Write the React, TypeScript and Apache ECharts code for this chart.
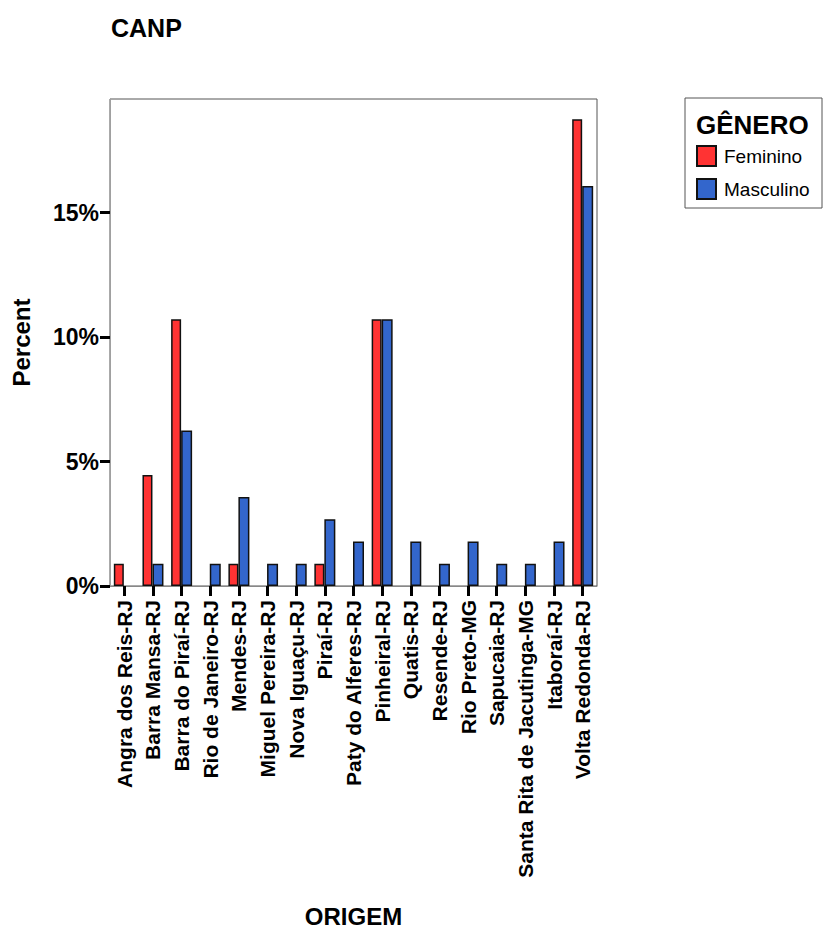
import React, { useEffect, useRef } from "react";
import * as echarts from "echarts";

const categories = [
  "Angra dos Reis-RJ",
  "Barra Mansa-RJ",
  "Barra do Piraí-RJ",
  "Rio de Janeiro-RJ",
  "Mendes-RJ",
  "Miguel Pereira-RJ",
  "Nova Iguaçu-RJ",
  "Piraí-RJ",
  "Paty do Alferes-RJ",
  "Pinheiral-RJ",
  "Quatis-RJ",
  "Resende-RJ",
  "Rio Preto-MG",
  "Sapucaia-RJ",
  "Santa Rita de Jacutinga-MG",
  "Itaboraí-RJ",
  "Volta Redonda-RJ",
];

const feminino = [0.89, 4.46, 10.71, null, 0.89, null, null, 0.89, null, 10.71, null, null, null, null, null, null, 18.75];
const masculino = [null, 0.89, 6.25, 0.89, 3.57, 0.89, 0.89, 2.68, 1.79, 10.71, 1.79, 0.89, 1.79, 0.89, 0.89, 1.79, 16.07];

const yTicks = [0, 5, 10, 15];
const seriesNames = ["Feminino", "Masculino"];
const legendTitle = "GÊNERO";

const FONT = "'Liberation Sans', Arial, sans-serif";

export default function App() {
  const ref = useRef<HTMLDivElement>(null);
  useEffect(() => {
    if (!ref.current) return;
    const chart = echarts.init(ref.current, null, { renderer: "svg" });
    chart.setOption({
      animation: false,
      backgroundColor: "#ffffff",
      textStyle: { fontFamily: FONT },
      title: {
        text: "CANP",
        left: 106,
        top: 10,
        textStyle: { fontSize: 25, fontWeight: "bold", color: "#000", fontFamily: FONT },
      },
      legend: {
        orient: "vertical",
        left: 691,
        top: 140,
        itemWidth: 19,
        itemHeight: 20,
        itemGap: 11,
        icon: "rect",
        data: seriesNames,
        textStyle: { fontSize: 19, color: "#000", fontFamily: FONT, padding: [0, 0, 0, 3] },
        selectedMode: false,
      },
      graphic: [
        {
          type: "rect",
          shape: { x: 685, y: 98, width: 137, height: 110 },
          style: { fill: "none", stroke: "#555", lineWidth: 1 },
        },
        {
          type: "text",
          x: 696,
          y: 112,
          style: { text: legendTitle, fontSize: 26, fontWeight: "bold", fill: "#000", fontFamily: FONT },
        },
      ],
      grid: {
        left: 110,
        right: 227,
        top: 99,
        bottom: 346,
        outerBoundsMode: "none",
        containLabel: false,
        show: true,
        borderColor: "#555",
        borderWidth: 1,
        backgroundColor: "transparent",
      },
      xAxis: {
        type: "category",
        data: categories,
        name: "ORIGEM",
        nameLocation: "middle",
        nameGap: 318,
        nameTextStyle: { fontSize: 24, fontWeight: "bold", color: "#000", fontFamily: FONT },
        axisLine: { show: true, lineStyle: { color: "#888", width: 1 } },
        axisTick: { show: true, alignWithLabel: true, length: 10, lineStyle: { color: "#000", width: 3 } },
        axisLabel: {
          rotate: 90,
          interval: 0,
          margin: 14,
          fontSize: 21,
          fontWeight: "bold",
          color: "#000",
          fontFamily: FONT,
        },
        splitLine: { show: false },
      },
      yAxis: {
        type: "value",
        min: 0,
        max: 19.56,
        interval: 5,
        name: "Percent",
        nameLocation: "middle",
        nameGap: 77,
        nameTextStyle: { fontSize: 24, fontWeight: "bold", color: "#000", fontFamily: FONT },
        axisLine: { show: true, lineStyle: { color: "#a0a0a0", width: 1 } },
        axisTick: {
          show: true,
          length: 10,
          customValues: yTicks,
          lineStyle: { color: "#000", width: 3 },
        },
        axisLabel: {
          customValues: yTicks,
          margin: 11,
          fontSize: 23,
          fontWeight: "bold",
          color: "#000",
          fontFamily: FONT,
          formatter: (v: number) => `${v}%`,
        },
        splitLine: { show: false },
      },
      series: [
        {
          name: seriesNames[0],
          type: "bar",
          data: feminino,
          barWidth: 10,
          barGap: "0%",
          itemStyle: { color: "#FF3333", borderColor: "#111", borderWidth: 1.5 },
        },
        {
          name: seriesNames[1],
          type: "bar",
          data: masculino,
          barWidth: 11,
          barGap: "0%",
          itemStyle: { color: "#3366CC", borderColor: "#111", borderWidth: 1.5 },
        },
      ],
    });
    return () => chart.dispose();
  }, []);
  return (
    <div
      ref={ref}
      style={{ position: "fixed", left: 0, top: 0, width: 824, height: 932, background: "#fff" }}
    />
  );
}
